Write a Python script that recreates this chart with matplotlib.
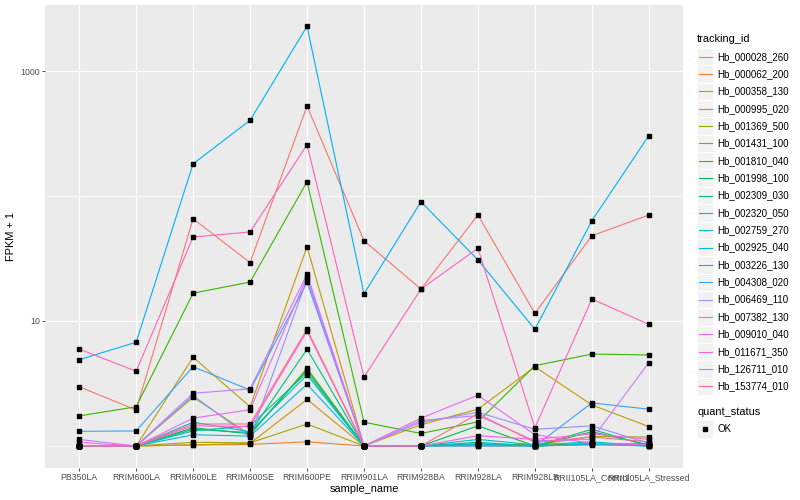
import matplotlib
matplotlib.use('Agg')
import matplotlib.pyplot as plt
from matplotlib.patches import Rectangle
from matplotlib.ticker import NullFormatter
import numpy as np

plt.rcParams['font.family'] = ['Liberation Sans', 'DejaVu Sans']

# samples on the x axis
samples = ['PB350LA', 'RRIM600LA', 'RRIM600LE', 'RRIM600SE', 'RRIM600PE', 'RRIM901LA',
           'RRIM928BA', 'RRIM928LA', 'RRIM928LB', 'RRII105LA_Control', 'RRII105LA_Stressed']

# FPKM per tracking_id (plotted as FPKM + 1)
Hb_000028_260 = [1.98, 0.94, 64.8, 28.3, 524, 42.9, 17.0, 69.5, 10.5, 47.1, 69.5]
Hb_000062_200 = [0, 0, 0.02, 0.03, 0.08, 0, 0, 0, 0, 0.02, 0.01]
Hb_000358_130 = [0, 0, 0.02, 0.05, 1.36, 0, 0, 0.02, 0.03, 0.04, 0.04]
Hb_000995_020 = [0, 0, 4.13, 1.06, 38.3, 0, 0.48, 0.97, 3.3, 1.13, 0.43]
Hb_001369_500 = [0, 0, 0.07, 0.06, 0.5, 0, 0, 0.03, 0.02, 0.19, 0.18]
Hb_001431_100 = [0, 0, 1.46, 0.23, 3.2, 0, 0, 0.04, 0, 0.05, 0.03]
Hb_001810_040 = [0.74, 1.06, 15.7, 19.5, 129, 0.55, 0.26, 0.56, 3.39, 4.44, 4.35]
Hb_001998_100 = [0, 0, 0.40, 0.25, 3.07, 0, 0, 0.45, 0, 0.30, 0.02]
Hb_002309_030 = [0, 0, 0.36, 0.28, 4.95, 0, 0, 0.07, 0, 0.36, 0]
Hb_002320_050 = [0, 0, 0.32, 0.45, 2.87, 0, 0, 0.04, 0, 0.04, 0]
Hb_002759_270 = [0, 0, 0.55, 0.30, 2.70, 0, 0, 0.13, 0.02, 0.08, 0]
Hb_002925_040 = [0, 0, 0.23, 0.20, 2.12, 0, 0, 0.03, 0, 0.03, 0]
Hb_003226_130 = [3.9, 5.76, 180, 402, 2277, 15.5, 89, 29.8, 7.58, 62.4, 303]
Hb_004308_020 = [0.31, 0.32, 3.31, 1.80, 19.4, 0, 0, 0, 0, 1.21, 0.97]
Hb_006469_110 = [0, 0, 1.53, 0.17, 20.6, 0, 0.55, 0.86, 0.36, 0.45, 0.05]
Hb_007382_130 = [0.13, 0, 1.64, 1.87, 22.6, 0, 0.60, 0.75, 0.10, 0.13, 3.65]
Hb_009010_040 = [0, 0, 0.67, 0.95, 21.6, 0, 0.67, 1.55, 0.23, 0.05, 0.02]
Hb_011671_350 = [0.07, 0, 0.45, 0.43, 7.3, 0, 0, 0.21, 0.13, 0.25, 0.13]
Hb_126711_010 = [4.97, 2.96, 46, 50.5, 256, 2.56, 17, 37.2, 0.40, 14, 8.4]
Hb_153774_010 = [0, 0, 0.50, 0.50, 7.6, 0, 0, 0.81, 0.07, 0.18, 0.08]

genes = ['Hb_000028_260', 'Hb_000062_200', 'Hb_000358_130', 'Hb_000995_020', 'Hb_001369_500',
         'Hb_001431_100', 'Hb_001810_040', 'Hb_001998_100', 'Hb_002309_030', 'Hb_002320_050',
         'Hb_002759_270', 'Hb_002925_040', 'Hb_003226_130', 'Hb_004308_020', 'Hb_006469_110',
         'Hb_007382_130', 'Hb_009010_040', 'Hb_011671_350', 'Hb_126711_010', 'Hb_153774_010']
fpkm = [Hb_000028_260, Hb_000062_200, Hb_000358_130, Hb_000995_020, Hb_001369_500,
        Hb_001431_100, Hb_001810_040, Hb_001998_100, Hb_002309_030, Hb_002320_050,
        Hb_002759_270, Hb_002925_040, Hb_003226_130, Hb_004308_020, Hb_006469_110,
        Hb_007382_130, Hb_009010_040, Hb_011671_350, Hb_126711_010, Hb_153774_010]

# ggplot hue palette, 20 levels
colors = ['#F8766D', '#EA8331', '#D89000', '#C09B00', '#A3A500', '#7CAE00', '#39B600',
          '#00BB4E', '#00BF7D', '#00C1A3', '#00BFC4', '#00BAE0', '#00B0F6', '#35A2FF',
          '#9590FF', '#C77CFF', '#E76BF3', '#FA62DB', '#FF62BC', '#FF6C91']

# fig config
W, H = 800, 500
fsize_tick = 6.3
fsize_leg = 7.0
fsize_title = 7.9
grey_bg = '#EBEBEB'


fig = plt.figure(figsize=(W/100, H/100), dpi=100)
ax = fig.add_axes([45/W, 32/H, 638/W, 463/H])
ax.set_facecolor(grey_bg)

x = np.arange(1, len(samples)+1)
for vals, c in zip(fpkm, colors):
    ax.plot(x, np.array(vals)+1, color=c, lw=0.8, zorder=2)
for vals in fpkm:
    ax.plot(x, np.array(vals)+1, ls='none', marker='s', ms=2.7, color='black', zorder=3)

ax.set_yscale('log')
ax.set_ylim(10**-0.176, 10**3.528)
ax.set_xlim(0.4, len(samples)+0.6)
ax.set_yticks([10, 1000])
ax.set_yticklabels(['10', '1000'])
ax.set_yticks([1, 100], minor=True)
ax.yaxis.set_minor_formatter(NullFormatter())
ax.set_xticks(x)
ax.set_xticklabels(samples)
ax.grid(which='major', color='white', lw=0.8)
ax.grid(which='minor', axis='y', color='white', lw=0.4)
ax.set_axisbelow(True)
for sp in ax.spines.values():
    sp.set_visible(False)
ax.tick_params(which='major', length=2.0, width=0.6, color='#333333', pad=1.6,
               labelsize=fsize_tick, labelcolor='#4D4D4D')
ax.tick_params(which='minor', length=0)
ax.set_xlabel('sample_name', fontsize=fsize_title, labelpad=1.5)
ax.set_ylabel('FPKM + 1', fontsize=fsize_title, labelpad=3)

# legend drawn in pixel coords
lax = fig.add_axes([0, 0, 1, 1])
lax.set_xlim(0, W)
lax.set_ylim(H, 0)
lax.axis('off')
lax.text(697, 39, 'tracking_id', fontsize=fsize_title, va='center', ha='left')
row_h = 17.35
for i, (g, c) in enumerate(zip(genes, colors)):
    yc = 56.7 + i*row_h
    lax.add_patch(Rectangle((697, yc-row_h/2), 16, row_h, fc='#F2F2F2', ec='white', lw=0.6))
    lax.plot([698.5, 711.5], [yc, yc], color=c, lw=0.8)
    lax.text(717, yc, g, fontsize=fsize_leg, va='center', ha='left')
lax.text(697, 412, 'quant_status', fontsize=fsize_title, va='center', ha='left')
lax.add_patch(Rectangle((697, 429-row_h/2), 16, row_h, fc='#F2F2F2', ec='white', lw=0.6))
lax.plot([705], [429], ls='none', marker='s', ms=2.7, color='black')
lax.text(717, 429, 'OK', fontsize=fsize_leg, va='center', ha='left')

fig.savefig('out.png', dpi=100)
